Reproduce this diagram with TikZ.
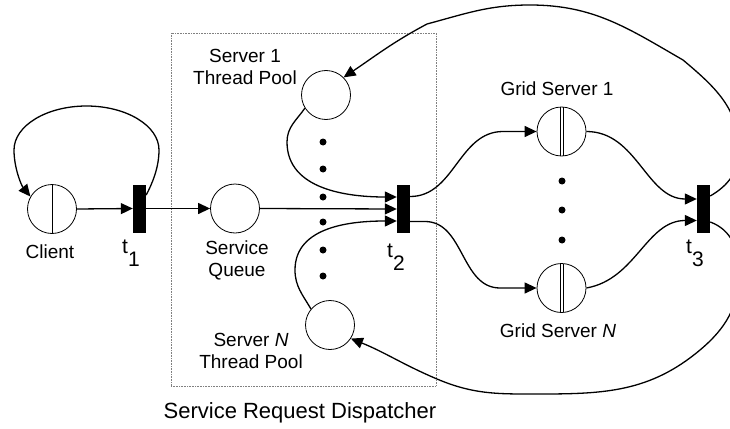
\documentclass[tikz,border=0pt]{standalone}
\usepackage{fontspec}
\setmainfont{Liberation Sans}
\usetikzlibrary{arrows.meta,calc}

\tikzset{
  place/.style={circle,draw,line width=0.8pt,minimum size=49pt,inner sep=0pt},
  splitplace/.style={place,path picture={
      \draw[line width=0.8pt] (path picture bounding box.north) -- (path picture bounding box.south);}},
  gridplace/.style={place,path picture={
      \draw[line width=0.8pt] ([xshift=-1.6pt]path picture bounding box.north) -- ([xshift=-1.6pt]path picture bounding box.south);
      \draw[line width=0.8pt] ([xshift=1.6pt]path picture bounding box.north) -- ([xshift=1.6pt]path picture bounding box.south);}},
  trans/.style={rectangle,fill=black,minimum width=13pt,minimum height=48pt,inner sep=0pt},
  arc/.style={line width=1.3pt,-{Triangle[length=12pt,width=11pt]}},
  lbl/.style={font=\fontsize{19}{22}\selectfont,align=center,inner sep=0pt},
  tlbl/.style={font=\fontsize{21}{22}\selectfont,inner sep=0pt,anchor=base west},
  dot/.style={circle,fill=black,minimum size=7pt,inner sep=0pt},
}

\newcommand{\tsub}[1]{t\raisebox{-13pt}{#1}}

\begin{document}
\begin{tikzpicture}[x=1pt,y=1pt]
  \clip (0,0) rectangle (730,-428);

  % dispatcher boundary
  \node[draw=gray,densely dotted,line width=0.6pt,minimum width=265pt,minimum height=353pt,inner sep=0pt]
    (srd) at (303.5,-209.5) {};
  \node[font=\fontsize{22}{24}\selectfont,anchor=base,inner sep=0pt] (srdlbl) at (300,-418) {Service Request Dispatcher};

  % places and transitions
  \node[splitplace] (client) at (52,-209) {};
  \node[trans] (t1) at (139.5,-208.5) {};
  \node[place] (sq) at (235,-208.5) {};
  \node[place] (sp1) at (326,-95) {};
  \node[place] (spN) at (330,-325) {};
  \node[trans] (t2) at (403.5,-209) {};
  \node[gridplace] (gs1) at (561.5,-131.5) {};
  \node[gridplace] (gsN) at (561.5,-288) {};
  \node[trans] (t3) at (703.5,-209) {};

  % labels
  \node[lbl,anchor=base] (clientlbl) at (50,-258) {Client};
  \node[lbl] (sp1lbl) at (245,-66.5) {Server 1\\Thread Pool};
  \node[lbl] (sqlbl) at (237,-260) {Service\\Queue};
  \node[lbl] (spNlbl) at (251,-351) {Server \textit{N}\\Thread Pool};
  \node[lbl,anchor=base] (gs1lbl) at (557,-95) {Grid Server 1};
  \node[lbl,anchor=base] (gsNlbl) at (558,-337) {Grid Server \textit{N}};
  \node[tlbl] (t1lbl) at (122,-253) {\tsub{1}};
  \node[tlbl] (t2lbl) at (387,-257) {\tsub{2}};
  \node[tlbl] (t3lbl) at (686,-253) {\tsub{3}};

  % ellipsis dots
  \foreach \y [count=\i] in {142,169,197,222,250,276}
    \node[dot] (ld\i) at (323,-\y) {};
  \foreach \y [count=\i] in {181,210,240}
    \node[dot] (rd\i) at (562,-\y) {};

  % client cycle
  \draw[arc] (client.east) -- (t1.west);
  \draw[arc] ([yshift=13.5pt]t1.east)
    .. controls (152,-184) and (159,-168) .. (159,-150)
    .. controls (159,-125.7) and (126.5,-106) .. (86.5,-106)
    .. controls (46.5,-106) and (14,-125.7) .. (14,-150)
    .. controls (14,-168) and (21.4,-185.5) .. (client.150);
  \draw[arc] (t1.east) -- (sq.west);

  % into t2
  \draw[arc] (sq.east) -- (t2.west);
  \draw[arc] (sp1.212) to[out=235,in=90] (287,-142)
    to[out=-90,in=180] ([yshift=12pt]t2.west);
  \draw[arc] (spN.140) to[out=120,in=-90] (295,-270)
    to[out=90,in=180] ([yshift=-12pt]t2.west);

  % t2 to grid servers
  \draw[arc] ([yshift=12.5pt]t2.east) to[out=0,in=180] (503,-131.5) -- (gs1.west);
  \draw[arc] ([yshift=-12.5pt]t2.east) -- (425,-221.5) to[out=0,in=180] (500,-288) -- (gsN.west);

  % grid servers to t3
  \draw[arc] (gs1.east) to[out=0,in=180] ([yshift=10pt]t3.west);
  \draw[arc] (gsN.east) to[out=10,in=180] ([yshift=-11.5pt]t3.west);

  % return arcs to the thread pools
  \draw[arc] ([yshift=13pt]t3.east) to[out=30,in=-90] (739,-150)
    to[out=90,in=-40] (683,-60) to[out=150,in=0] (530,-5)
    to[out=180,in=15] (427,-24) to[out=208,in=34] (sp1.45);
  \draw[arc] ([yshift=-13pt]t3.east) to[out=-20,in=90] (739,-272)
    to[out=-90,in=40] (700,-350) to[out=220,in=0] (540,-394)
    to[out=180,in=-23] (437,-379) to[out=157,in=-22] (spN.-33);
\end{tikzpicture}
\end{document}
